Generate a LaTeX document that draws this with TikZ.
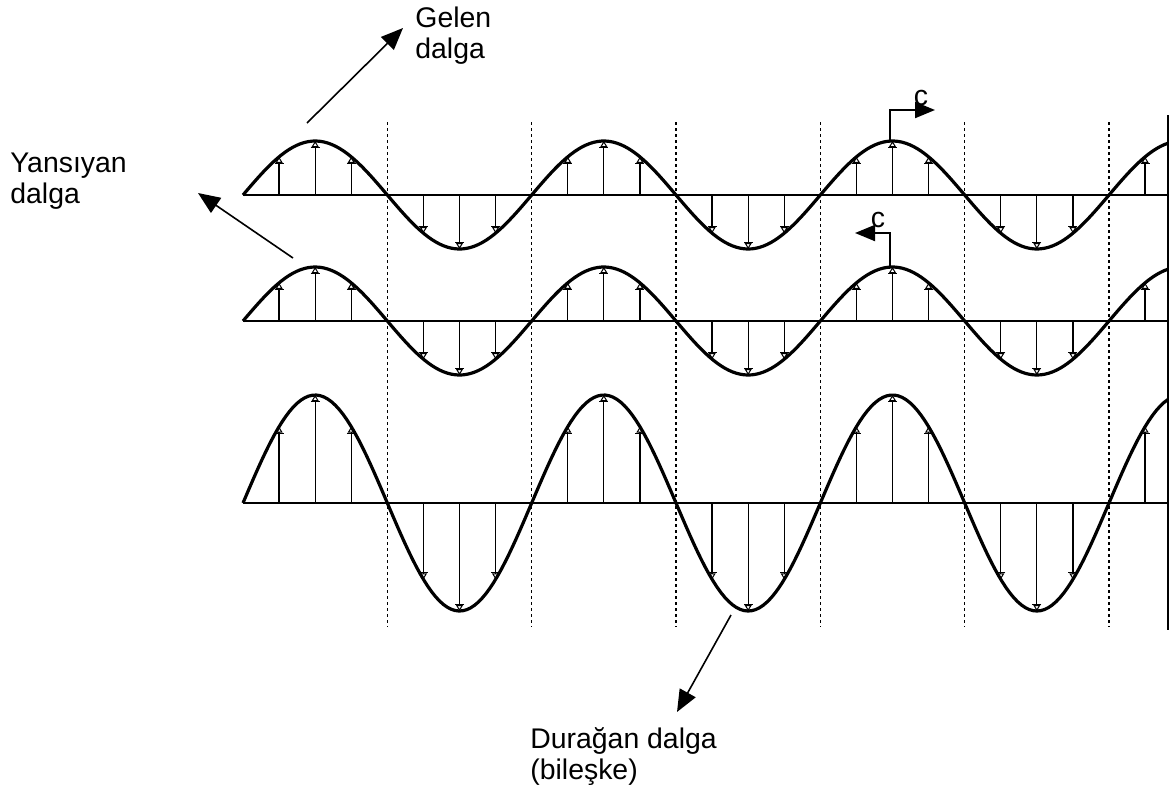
\documentclass[tikz,border=0pt]{standalone}
\usepackage{fontspec}
\setmainfont{Liberation Sans}
\usetikzlibrary{arrows.meta}
\begin{document}
\begin{tikzpicture}[x=0.5pt,y=-0.5pt,
  wave/.style={line width=1.6pt,line join=round},
  axisline/.style={line width=0.8pt},
  smallarr/.style={line width=0.6pt,-{Bar[width=4.5pt,line width=0.5pt,sep=0pt]Triangle[open,length=3pt,width=3.5pt,line width=0.5pt]}},
  guide/.style={line width=0.6pt,dash pattern=on 1.5pt off 1.5pt},
  bigarr/.style={line width=0.8pt,-{Triangle[length=11pt,width=9pt]}},
  carr/.style={line width=1pt,-{Triangle[length=10pt,width=8pt]}},
  lbl/.style={font=\fontsize{14.2pt}{15.5pt}\selectfont,inner sep=0pt,align=left,anchor=north west},
  clbl/.style={font=\fontsize{14.2pt}{15.5pt}\selectfont,inner sep=0pt}
]
\useasboundingbox (0,0) rectangle (1170,794);
% dashed guides
\foreach \k in {1,...,6}{
  \draw[guide] ({243+\k*144.333},122) -- ({243+\k*144.333},627);
}
% right wall
\draw[axisline] (1168,115) -- (1168,630);
% waves: axis y, amplitude
\foreach \Y/\A in {195/54, 321/54, 503/108}{
  \draw[axisline] (243,\Y) -- (1168,\Y);
  \foreach \j in {1,2,3,5,6,7,9,10,11,13,14,15,17,18,19,21,22,23,25}{
    \draw[smallarr] ({243+\j*36.083},\Y) -- ({243+\j*36.083},{\Y-\A*sin(\j*45)});
  }
  \draw[wave] plot[domain=243:1168,samples=241] (\x,{\Y-\A*sin((\x-243)/288.667*360)});
}
% labels
\node[lbl] (gelen) at (415,7) {Gelen\\dalga};
\node[lbl] (yans) at (10,153) {Yansıyan\\dalga};
\node[lbl] (durag) at (530,727) {Durağan dalga\\(bileşke)};
% big arrows
\coordinate (g0) at (307,123);
\coordinate (g1) at (403,28);
\coordinate (y0) at (293,258);
\coordinate (y1) at (198,193);
\coordinate (d0) at (731,615);
\coordinate (d1) at (677,712);
\draw[bigarr] (g0) -- (g1);
\draw[bigarr] (y0) -- (y1);
\draw[bigarr] (d0) -- (d1);
% c arrows
\coordinate (p1) at (890,141);
\coordinate (t1) at (935,110);
\coordinate (p2) at (890,267);
\coordinate (t2) at (855,233);
\draw[carr] (p1) |- (t1);
\draw[carr] (p2) |- (t2);
\node[clbl] (c1) at (921,98) {c};
\node[clbl] (c2) at (878,220) {c};
\end{tikzpicture}
\end{document}
